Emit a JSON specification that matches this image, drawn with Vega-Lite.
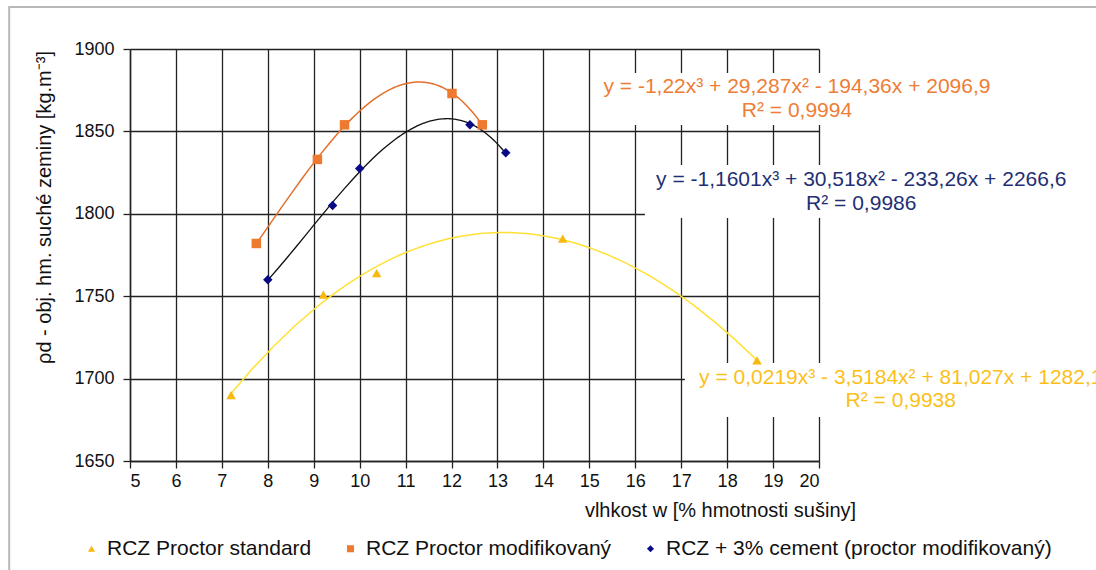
{
  "$schema": "https://vega.github.io/schema/vega-lite/v6.json",
  "autosize": {"type": "none"},
  "width": 689,
  "height": 412,
  "padding": {"left": 130, "top": 49, "right": 277, "bottom": 109},
  "background": "white",
  "config": {
    "font": "Liberation Sans",
    "view": {"stroke": null},
    "axis": {
      "gridColor": "#222222", "gridWidth": 1.3, "gridOpacity": 1,
      "domainColor": "#222222", "domainWidth": 1.5,
      "tickColor": "#222222", "tickSize": 7, "tickWidth": 1.3,
      "labelFont": "Liberation Sans", "labelFontSize": 18, "labelColor": "#111111",
      "titleFont": "Liberation Sans", "titleFontSize": 20, "titleFontWeight": "normal", "titleColor": "#111111"
    }
  },
  "datasets": {
    "pts": [
      {"series": "RCZ Proctor standard", "w": 7.2, "rho": 1690},
      {"series": "RCZ Proctor standard", "w": 9.21, "rho": 1751},
      {"series": "RCZ Proctor standard", "w": 10.37, "rho": 1764},
      {"series": "RCZ Proctor standard", "w": 14.42, "rho": 1785},
      {"series": "RCZ Proctor standard", "w": 18.65, "rho": 1711},
      {"series": "RCZ Proctor modifikovaný", "w": 7.75, "rho": 1782},
      {"series": "RCZ Proctor modifikovaný", "w": 9.08, "rho": 1833},
      {"series": "RCZ Proctor modifikovaný", "w": 9.67, "rho": 1854},
      {"series": "RCZ Proctor modifikovaný", "w": 12.01, "rho": 1873},
      {"series": "RCZ Proctor modifikovaný", "w": 12.67, "rho": 1854},
      {"series": "RCZ + 3% cement (proctor modifikovaný)", "w": 8.0, "rho": 1760},
      {"series": "RCZ + 3% cement (proctor modifikovaný)", "w": 9.41, "rho": 1805},
      {"series": "RCZ + 3% cement (proctor modifikovaný)", "w": 10.0, "rho": 1827.5},
      {"series": "RCZ + 3% cement (proctor modifikovaný)", "w": 12.4, "rho": 1854},
      {"series": "RCZ + 3% cement (proctor modifikovaný)", "w": 13.18, "rho": 1837}
    ],
    "boxes": [
      {"x1": 15.12, "x2": 23.94, "y1": 1885.4, "y2": 1853.9},
      {"x1": 16.21, "x2": 25.57, "y1": 1829.6, "y2": 1797.5},
      {"x1": 17.08, "x2": 26.34, "y1": 1709.5, "y2": 1676.7}
    ],
    "frame": [
      {"x1": 2.37, "x2": 40, "y1": 1925.5, "y2": 1500}
    ],
    "labels": [
      {"series": "RCZ Proctor modifikovaný", "w": 19.52, "rho": 1876.9, "t": "y = -1,22x³ + 29,287x² - 194,36x + 2096,9"},
      {"series": "RCZ Proctor modifikovaný", "w": 19.52, "rho": 1862.4, "t": "R² = 0,9994"},
      {"series": "RCZ + 3% cement (proctor modifikovaný)", "w": 20.92, "rho": 1820.5, "t": "y = -1,1601x³ + 30,518x² - 233,26x + 2266,6"},
      {"series": "RCZ + 3% cement (proctor modifikovaný)", "w": 20.92, "rho": 1806, "t": "R² = 0,9986"},
      {"series": "RCZ Proctor standard", "w": 21.78, "rho": 1700.4, "t": "y = 0,0219x³ - 3,5184x² + 81,027x + 1282,1"},
      {"series": "RCZ Proctor standard", "w": 21.78, "rho": 1686.4, "t": "R² = 0,9938"}
    ]
  },
  "resolve": {"scale": {"fill": "independent"}},
  "layer": [
    {
      "data": {"name": "frame"},
      "mark": {"type": "rect", "clip": false, "fill": null, "stroke": "#b8b8b8", "strokeWidth": 2},
      "encoding": {
        "x": {"field": "x1", "type": "quantitative", "scale": {"domain": [5, 20], "nice": false, "zero": false},
          "axis": {"values": [5,6,7,8,9,10,11,12,13,14,15,16,17,18,19,20], "format": "d", "title": "vlhkost w [% hmotnosti sušiny]", "titleX": 590, "titleY": 49, "titleAlign": "center", "titleBaseline": "middle", "labelPadding": 4}},
        "x2": {"field": "x2"},
        "y": {"field": "y1", "type": "quantitative", "scale": {"domain": [1650, 1900], "nice": false, "zero": false},
          "axis": {"values": [1650,1700,1750,1800,1850,1900], "format": "d", "title": "ρd - obj. hm. suché zeminy [kg.m⁻³]", "titleX": -86, "titleY": 158, "titleAlign": "center", "titleBaseline": "middle", "labelPadding": 9}},
        "y2": {"field": "y2"}
      }
    },
    {
      "data": {"name": "boxes"},
      "mark": {"type": "rect", "clip": false, "fill": "white", "stroke": null},
      "encoding": {
        "x": {"field": "x1", "type": "quantitative"},
        "x2": {"field": "x2"},
        "y": {"field": "y1", "type": "quantitative"},
        "y2": {"field": "y2"}
      }
    },
    {
      "data": {"name": "pts"},
      "transform": [
        {"filter": "datum.series === 'RCZ Proctor standard'"},
        {"regression": "rho", "on": "w", "method": "poly", "order": 3}
      ],
      "mark": {"type": "line", "color": "#FFE033", "strokeWidth": 1.5},
      "encoding": {
        "x": {"field": "w", "type": "quantitative"},
        "y": {"field": "rho", "type": "quantitative"}
      }
    },
    {
      "data": {"name": "pts"},
      "transform": [
        {"filter": "datum.series === 'RCZ Proctor modifikovaný'"},
        {"regression": "rho", "on": "w", "method": "poly", "order": 3}
      ],
      "mark": {"type": "line", "color": "#E2702A", "strokeWidth": 1.5},
      "encoding": {
        "x": {"field": "w", "type": "quantitative"},
        "y": {"field": "rho", "type": "quantitative"}
      }
    },
    {
      "data": {"name": "pts"},
      "transform": [
        {"filter": "datum.series === 'RCZ + 3% cement (proctor modifikovaný)'"},
        {"regression": "rho", "on": "w", "method": "poly", "order": 3}
      ],
      "mark": {"type": "line", "color": "#111111", "strokeWidth": 1.3},
      "encoding": {
        "x": {"field": "w", "type": "quantitative"},
        "y": {"field": "rho", "type": "quantitative"}
      }
    },
    {
      "data": {"name": "pts"},
      "mark": {"type": "point", "filled": true, "opacity": 1, "size": 90},
      "encoding": {
        "x": {"field": "w", "type": "quantitative"},
        "y": {"field": "rho", "type": "quantitative"},
        "color": {"field": "series", "type": "nominal",
          "scale": {"domain": ["RCZ Proctor standard", "RCZ Proctor modifikovaný", "RCZ + 3% cement (proctor modifikovaný)"], "range": ["#F7B80F", "#EE7A30", "#0A0A85"]},
          "legend": {"orient": "none", "direction": "horizontal", "legendX": -49, "legendY": 489, "title": null,
            "labelFontSize": 21, "labelFont": "Liberation Sans", "labelColor": "#111111", "labelLimit": 0, "symbolSize": 50, "symbolOpacity": 1, "columnPadding": 28, "labelOffset": 5}},
        "shape": {"field": "series", "type": "nominal",
          "scale": {"domain": ["RCZ Proctor standard", "RCZ Proctor modifikovaný", "RCZ + 3% cement (proctor modifikovaný)"], "range": ["triangle-up", "square", "diamond"]}}
      }
    },
    {
      "data": {"name": "labels"},
      "mark": {"type": "text", "fontSize": 21, "font": "Liberation Sans", "align": "center", "baseline": "middle", "clip": false},
      "encoding": {
        "x": {"field": "w", "type": "quantitative"},
        "y": {"field": "rho", "type": "quantitative"},
        "text": {"field": "t"},
        "fill": {"field": "series", "type": "nominal", "legend": null,
          "scale": {"domain": ["RCZ Proctor standard", "RCZ Proctor modifikovaný", "RCZ + 3% cement (proctor modifikovaný)"], "range": ["#FBBF1A", "#EE7D35", "#1F2F74"]}}
      }
    }
  ]
}
